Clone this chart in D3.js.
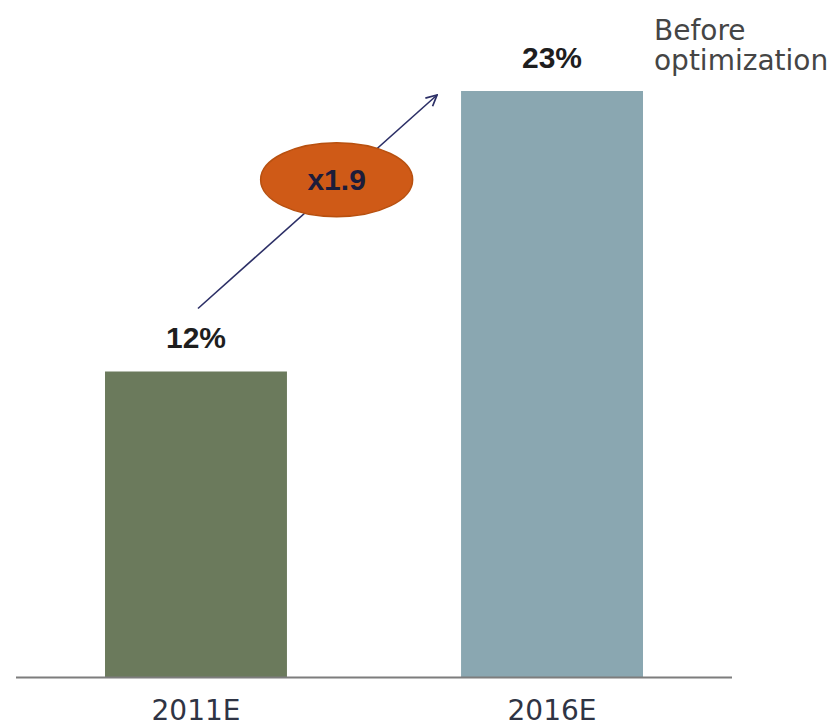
<!DOCTYPE html>
<html>
<head>
<meta charset="utf-8">
<script src="https://cdn.jsdelivr.net/npm/d3@7"></script>
<style>
  html, body { margin: 0; padding: 0; background: #fff; }
  svg { display: block; }
</style>
</head>
<body>
<svg id="chart" width="836" height="728"></svg>
<script>
// Share values by year (percent)
const categories = ["2011E", "2016E"];
const values = [12, 23];
const valueLabels = ["12%", "23%"];
const barColors = ["#6b7a5c", "#8aa7b1"];
const growthLabel = "x1.9";
const noteLines = ["Before", "optimization"];

const width = 836, height = 728;
const svg = d3.select("#chart");

const x = d3.scaleBand()
  .domain(categories)
  .range([16, 732])
  .paddingInner(0.489)
  .paddingOuter(0.25);

const y = d3.scaleLinear()
  .domain([0, 25])
  .range([677.5, 677.5 - 25.5 * 25]);

const bw = x.bandwidth();

// Bars
svg.selectAll("rect.bar")
  .data(categories)
  .join("rect")
  .attr("class", "bar")
  .attr("x", d => x(d))
  .attr("y", (d, i) => y(values[i]))
  .attr("width", bw)
  .attr("height", (d, i) => y(0) - y(values[i]))
  .attr("fill", (d, i) => barColors[i]);

// Baseline
svg.append("line")
  .attr("x1", x.range()[0]).attr("x2", x.range()[1])
  .attr("y1", y(0)).attr("y2", y(0))
  .attr("stroke", "#7d7d7d")
  .attr("stroke-width", 2);

// Category labels
const xAxis = d3.axisBottom(x).tickSize(0).tickPadding(25);
const gx = svg.append("g")
  .attr("transform", `translate(0,${y(0)})`)
  .call(xAxis);
gx.select(".domain").remove();
gx.selectAll("text")
  .attr("font-family", "'DejaVu Sans', sans-serif")
  .attr("font-size", 28)
  .attr("fill", "#2f3444")
  .attr("dy", null)
  .attr("y", 42);

// Value labels above bars
svg.selectAll("text.val")
  .data(categories)
  .join("text")
  .attr("class", "val")
  .attr("x", d => x(d) + bw / 2)
  .attr("y", (d, i) => y(values[i]) - 23.5)
  .attr("text-anchor", "middle")
  .attr("font-family", "'Liberation Sans', Arial, sans-serif")
  .attr("font-weight", "bold")
  .attr("font-size", 30)
  .attr("fill", "#1e1e1e")
  .text((d, i) => valueLabels[i]);

// Note beside the second bar
const note = svg.append("text")
  .attr("font-family", "'DejaVu Sans', sans-serif")
  .attr("font-size", 28)
  .attr("fill", "#454545");
note.selectAll("tspan")
  .data(noteLines)
  .join("tspan")
  .attr("x", x(categories[1]) + bw + 11)
  .attr("y", (d, i) => 40 + i * 30)
  .text(d => d);

// Growth arrow from first label to top of second bar
const arrowStart = [x(categories[0]) + bw / 2 + 2, y(values[0]) - 63];
const arrowEnd = [x(categories[1]) - 24, y(values[1]) + 4];

const defs = svg.append("defs");
defs.append("marker")
  .attr("id", "arrowHead")
  .attr("viewBox", "0 0 12 12")
  .attr("refX", 11)
  .attr("refY", 6)
  .attr("markerWidth", 13)
  .attr("markerHeight", 13)
  .attr("markerUnits", "userSpaceOnUse")
  .attr("orient", "auto")
  .append("path")
  .attr("d", "M1,1 L11,6 L1,11")
  .attr("fill", "none")
  .attr("stroke", "#2c2f66")
  .attr("stroke-width", 1.6);

svg.append("line")
  .attr("x1", arrowStart[0]).attr("y1", arrowStart[1])
  .attr("x2", arrowEnd[0]).attr("y2", arrowEnd[1])
  .attr("stroke", "#2c2f66")
  .attr("stroke-width", 1.6)
  .attr("marker-end", "url(#arrowHead)");

// Multiplier badge sitting on the arrow
const t = 0.58;
const cx = arrowStart[0] + (arrowEnd[0] - arrowStart[0]) * t;
const cy = arrowStart[1] + (arrowEnd[1] - arrowStart[1]) * t - 5;
svg.append("ellipse")
  .attr("cx", cx).attr("cy", cy)
  .attr("rx", 76).attr("ry", 37)
  .attr("fill", "#cf5a17")
  .attr("stroke", "#b8500f")
  .attr("stroke-width", 1.5);
svg.append("text")
  .attr("x", cx).attr("y", cy + 10)
  .attr("text-anchor", "middle")
  .attr("font-family", "'Liberation Sans', Arial, sans-serif")
  .attr("font-weight", "bold")
  .attr("font-size", 30)
  .attr("fill", "#1c1c3a")
  .text(growthLabel);
</script>
</body>
</html>
